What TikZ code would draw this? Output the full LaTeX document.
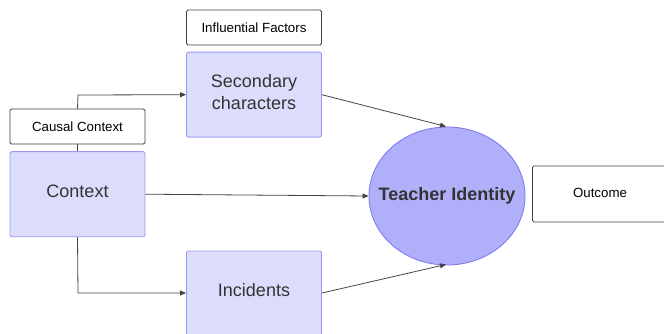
\documentclass[tikz,border=0pt]{standalone}
\usepackage{fontspec}
\setmainfont{Liberation Sans}
\usetikzlibrary{arrows.meta,calc,shapes.geometric}
\definecolor{boxfill}{HTML}{DCDCFC}
\definecolor{boxline}{HTML}{9A9AF5}
\definecolor{ellfill}{HTML}{B0B0FA}
\definecolor{ellline}{HTML}{7C7CEE}
\definecolor{txt}{HTML}{333333}
\definecolor{conn}{HTML}{444444}
\begin{document}
\begin{tikzpicture}[x=1pt,y=-1pt,
  mainbox/.style={draw=boxline,fill=boxfill,line width=0.9pt,rounded corners=2pt,
    minimum width=135pt,minimum height=85pt,inner sep=0pt,font=\fontsize{18}{22}\selectfont,
    text=txt,align=center,text depth=5pt},
  labelbox/.style={draw=black!75,fill=white,line width=0.8pt,rounded corners=1.5pt,
    minimum width=135pt,minimum height=35pt,inner sep=0pt,font=\fontsize{13.3}{16}\selectfont,text=black},
  conline/.style={draw=conn,line width=0.8pt},
  arr/.style={conline,-{Triangle[length=6pt,width=5pt]}}]
\useasboundingbox (0,0) rectangle (664,334);
\node[labelbox] (cc) at (77.5,126.5) {Causal Context};
\node[mainbox] (ctx) at (77.5,194.2) {Context};
\node[labelbox] (inf) at (254,27.5) {Influential Factors};
\node[mainbox] (sec) at (254,94.7) {Secondary\\characters};
\node[mainbox,minimum height=86pt] (inc) at (254,294) {};
\node[font=\fontsize{18}{22}\selectfont,text=txt] (inct) at (254,290.5) {Incidents};
\node[draw=ellline,fill=ellfill,line width=0.9pt,ellipse,minimum width=156pt,minimum height=138pt,
  inner sep=0pt,font=\bfseries\fontsize{18}{22}\selectfont,text=txt] (ti) at (447,196) {\makebox[0pt]{Teacher Identity}};
\node[labelbox,minimum width=140pt,minimum height=56pt,anchor=west] (out) at (532,194) {};
\node[font=\fontsize{13.3}{16}\selectfont] (outt) at (600,193) {Outcome};
\coordinate (c1) at (78,95);
\coordinate (c2) at (78,293);
\coordinate (e1) at (446,126.5);
\coordinate (e2) at (446,264.5);
\draw[conline] (cc.south) -- (ctx.north);
\draw[arr] (cc.north) -- (c1) -- (sec.west);
\draw[arr] (ctx.south) -- (c2) -- (inc.west |- c2);
\draw[arr] (ctx.east) -- (ti.west);
\draw[arr] (sec.east) -- (e1);
\draw[arr] (inc.east |- c2) -- (e2);
\end{tikzpicture}
\end{document}
